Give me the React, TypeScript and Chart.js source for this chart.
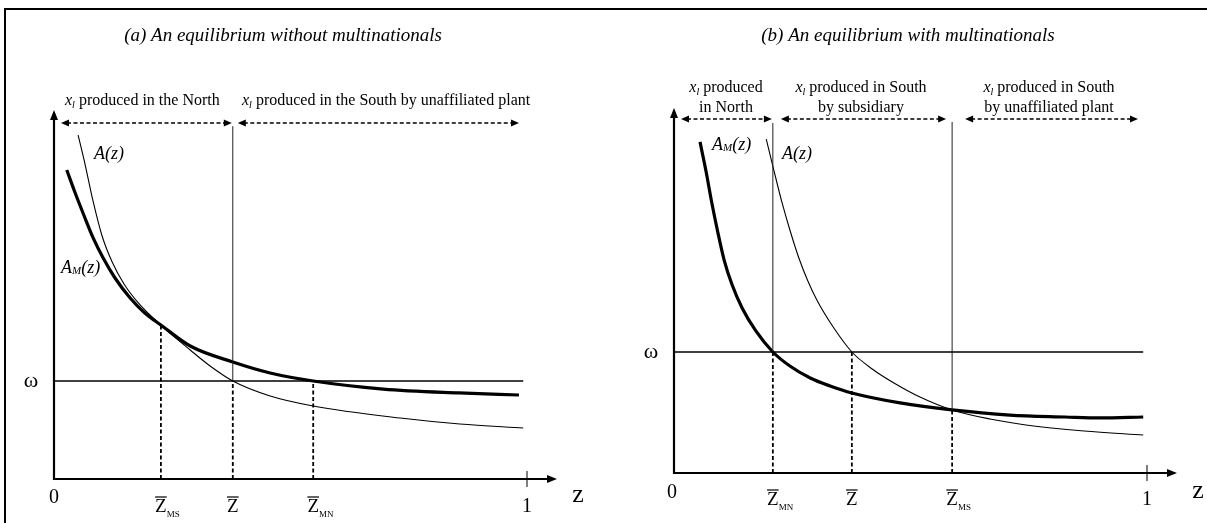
import React, { useEffect, useRef } from "react";
import { Chart, registerables } from "chart.js";

Chart.register(...registerables);

const SERIF = '"Liberation Serif", "Times New Roman", serif';

// ---------- Panel (a): an equilibrium without multinationals ----------
// z on [0,1]; values in units of ω (ω = 1)
const LEFT_A_Z = [0.051, 0.066, 0.082, 0.101, 0.123, 0.148, 0.182, 0.226, 0.288, 0.33, 0.378, 0.457, 0.548, 0.732, 0.858, 0.992];
const LEFT_A_V = [3.51, 3.204, 2.847, 2.49, 2.214, 1.99, 1.776, 1.571, 1.316, 1.153, 1.0, 0.847, 0.745, 0.622, 0.561, 0.52];
const LEFT_AM_Z = [0.027, 0.044, 0.063, 0.082, 0.104, 0.129, 0.161, 0.192, 0.226, 0.288, 0.378, 0.457, 0.548, 0.696, 0.856, 0.983];
const LEFT_AM_V = [3.153, 2.929, 2.694, 2.469, 2.255, 2.051, 1.847, 1.694, 1.571, 1.357, 1.194, 1.082, 1.0, 0.918, 0.878, 0.857];
const LEFT_MARK_Z = [0.226, 0.378, 0.548]; // Z̄MS, Z̄, Z̄MN
const LEFT_MARK_SUB = ["MS", "", "MN"];
const LEFT_MARK_V = [1.571, 1.0, 1.0]; // where each dashed drop line starts
const LEFT_GUIDE_TOP = 3.6; // top of the solid line at Z̄
const LEFT_OMEGA_END = 0.992;

// ---------- Panel (b): an equilibrium with multinationals ----------
const RIGHT_A_Z = [0.195, 0.211, 0.228, 0.245, 0.264, 0.283, 0.302, 0.338, 0.376, 0.419, 0.465, 0.52, 0.588, 0.668, 0.744, 0.867, 0.992];
const RIGHT_A_V = [2.76, 2.504, 2.24, 2.008, 1.777, 1.587, 1.43, 1.198, 1.0, 0.86, 0.744, 0.628, 0.521, 0.446, 0.397, 0.347, 0.314];
const RIGHT_AM_Z = [0.055, 0.068, 0.08, 0.093, 0.106, 0.123, 0.144, 0.173, 0.209, 0.245, 0.288, 0.33, 0.376, 0.478, 0.588, 0.71, 0.827, 0.901, 0.992];
const RIGHT_AM_V = [2.736, 2.488, 2.231, 1.983, 1.76, 1.554, 1.364, 1.174, 1.0, 0.884, 0.785, 0.719, 0.661, 0.579, 0.521, 0.479, 0.463, 0.455, 0.463];
const RIGHT_MARK_Z = [0.209, 0.376, 0.588]; // Z̄MN, Z̄, Z̄MS
const RIGHT_MARK_SUB = ["MN", "", "MS"];
const RIGHT_MARK_V = [1.0, 1.0, 0.521];
const RIGHT_GUIDE_TOP = [2.893, 2.901]; // solid lines at Z̄MN and Z̄MS
const RIGHT_OMEGA_END = 0.992;

type Pt = { x: number; y: number };
const pts = (zs: number[], vs: number[]): Pt[] => zs.map((z, i) => ({ x: z, y: vs[i] }));
const seg = (x1: number, y1: number, x2: number, y2: number): Pt[] => [
  { x: x1, y: y1 },
  { x: x2, y: y2 },
];

const base = { borderColor: "#000", pointRadius: 0, fill: false, tension: 0 };
const curve = (data: Pt[], w: number) => ({ ...base, data, borderWidth: w, cubicInterpolationMode: "monotone" as const });
const line = (data: Pt[], w: number, dash: number[] = [], color = "#000") => ({
  ...base,
  data,
  borderWidth: w,
  borderDash: dash,
  borderColor: color,
});

interface Run {
  t: string;
  f: string;
  dy?: number;
}
function runsWidth(ctx: CanvasRenderingContext2D, runs: Run[]) {
  let w = 0;
  for (const r of runs) {
    ctx.font = r.f;
    w += ctx.measureText(r.t).width;
  }
  return w;
}
function drawRuns(ctx: CanvasRenderingContext2D, runs: Run[], x: number, y: number, center = false) {
  let cx = center ? x - runsWidth(ctx, runs) / 2 : x;
  ctx.textAlign = "left";
  ctx.textBaseline = "alphabetic";
  for (const r of runs) {
    ctx.font = r.f;
    ctx.fillText(r.t, cx, y + (r.dy || 0));
    cx += ctx.measureText(r.t).width;
  }
}
function head(ctx: CanvasRenderingContext2D, x: number, y: number, dx: number, dy: number, len = 9, half = 4) {
  const bx = x - dx * len;
  const by = y - dy * len;
  ctx.beginPath();
  ctx.moveTo(x, y);
  ctx.lineTo(bx - dy * half, by + dx * half);
  ctx.lineTo(bx + dy * half, by - dx * half);
  ctx.closePath();
  ctx.fill();
}
function dashedArrow(ctx: CanvasRenderingContext2D, x1: number, x2: number, y: number) {
  ctx.save();
  ctx.setLineDash([4, 2.5]);
  ctx.lineWidth = 1.6;
  ctx.beginPath();
  ctx.moveTo(x1 + 6, y);
  ctx.lineTo(x2 - 6, y);
  ctx.stroke();
  ctx.restore();
  head(ctx, x1, y, -1, 0, 8, 3.5);
  head(ctx, x2, y, 1, 0, 8, 3.5);
}
function axes(ctx: CanvasRenderingContext2D, x0: number, y0: number, tipY: number, tipX: number, x1: number) {
  ctx.lineWidth = 2.2;
  ctx.beginPath();
  ctx.moveTo(x0, y0 + 1);
  ctx.lineTo(x0, tipY + 7);
  ctx.moveTo(x0 - 1, y0);
  ctx.lineTo(tipX - 7, y0);
  ctx.stroke();
  head(ctx, x0, tipY, 0, -1, 10, 4);
  head(ctx, tipX, y0, 1, 0, 10, 4);
  ctx.lineWidth = 1;
  ctx.beginPath();
  ctx.moveTo(x1, y0 - 8);
  ctx.lineTo(x1, y0 + 8);
  ctx.stroke();
}
function zbar(ctx: CanvasRenderingContext2D, x: number, baseY: number, sub: string) {
  ctx.font = `19px ${SERIF}`;
  const w = ctx.measureText("Z").width;
  ctx.textAlign = "left";
  ctx.textBaseline = "alphabetic";
  ctx.fillText("Z", x - w / 2, baseY);
  ctx.lineWidth = 1.2;
  ctx.beginPath();
  ctx.moveTo(x - w / 2, baseY - 15);
  ctx.lineTo(x + w / 2, baseY - 15);
  ctx.stroke();
  if (sub) {
    ctx.font = `9px ${SERIF}`;
    ctx.fillText(sub, x + w / 2, baseY + 5);
  }
}
function centerText(ctx: CanvasRenderingContext2D, t: string, f: string, x: number, y: number) {
  ctx.font = f;
  ctx.textAlign = "center";
  ctx.textBaseline = "alphabetic";
  ctx.fillText(t, x, y);
}
const xl = (rest: string): Run[] => [
  { t: "x", f: `italic 16px ${SERIF}` },
  { t: "l", f: `italic 10px ${SERIF}`, dy: 3 },
  { t: rest, f: `16px ${SERIF}` },
];
const amLabel: Run[] = [
  { t: "A", f: `italic 18px ${SERIF}` },
  { t: "M", f: `italic 11px ${SERIF}`, dy: 1 },
  { t: "(z)", f: `italic 18px ${SERIF}` },
];
const aLabel: Run[] = [{ t: "A(z)", f: `italic 18px ${SERIF}` }];

function drawLeft(chart: any) {
  const ctx: CanvasRenderingContext2D = chart.ctx;
  const X = (z: number) => chart.scales.x.getPixelForValue(z);
  const Y = (v: number) => chart.scales.y.getPixelForValue(v);
  ctx.save();
  ctx.fillStyle = "#000";
  ctx.strokeStyle = "#000";
  axes(ctx, X(0), Y(0), 110, 557, X(1));
  centerText(ctx, "(a) An equilibrium without multinationals", `italic 19px ${SERIF}`, 283, 41);
  drawRuns(ctx, xl(" produced in the North"), 65, 105);
  drawRuns(ctx, xl(" produced in the South by unaffiliated plant"), 242, 105);
  dashedArrow(ctx, 61, X(LEFT_MARK_Z[1]) - 1, 123);
  dashedArrow(ctx, X(LEFT_MARK_Z[1]) + 5, 519, 123);
  centerText(ctx, "ω", `22px ${SERIF}`, 31, Y(1) + 6);
  centerText(ctx, "0", `20px ${SERIF}`, X(0), 503);
  centerText(ctx, "1", `20px ${SERIF}`, X(1), 512);
  centerText(ctx, "z", `26px ${SERIF}`, 578, 502);
  LEFT_MARK_Z.forEach((z, i) => zbar(ctx, X(z), 512, LEFT_MARK_SUB[i]));
  drawRuns(ctx, aLabel, 94, 159);
  drawRuns(ctx, amLabel, 61, 273);
  ctx.restore();
}

function drawRight(chart: any) {
  const ctx: CanvasRenderingContext2D = chart.ctx;
  const X = (z: number) => chart.scales.x.getPixelForValue(z);
  const Y = (v: number) => chart.scales.y.getPixelForValue(v);
  ctx.save();
  ctx.fillStyle = "#000";
  ctx.strokeStyle = "#000";
  axes(ctx, X(0), Y(0), 108, 577, X(1));
  centerText(ctx, "(b) An equilibrium with multinationals", `italic 19px ${SERIF}`, 308, 41);
  drawRuns(ctx, xl(" produced"), 126, 92, true);
  centerText(ctx, "in North", `16px ${SERIF}`, 126, 112);
  drawRuns(ctx, xl(" produced in South"), 261, 92, true);
  centerText(ctx, "by subsidiary", `16px ${SERIF}`, 261, 112);
  drawRuns(ctx, xl(" produced in South"), 449, 92, true);
  centerText(ctx, "by unaffiliated plant", `16px ${SERIF}`, 449, 112);
  dashedArrow(ctx, 81, X(RIGHT_MARK_Z[0]) - 1, 119);
  dashedArrow(ctx, X(RIGHT_MARK_Z[0]) + 8, X(RIGHT_MARK_Z[2]) - 6, 119);
  dashedArrow(ctx, X(RIGHT_MARK_Z[2]) + 13, 538, 119);
  centerText(ctx, "ω", `22px ${SERIF}`, 51, Y(1) + 6);
  centerText(ctx, "0", `20px ${SERIF}`, X(0) - 2, 498);
  centerText(ctx, "1", `20px ${SERIF}`, X(1), 505);
  centerText(ctx, "z", `26px ${SERIF}`, 598, 498);
  RIGHT_MARK_Z.forEach((z, i) => zbar(ctx, X(z), 505, RIGHT_MARK_SUB[i]));
  drawRuns(ctx, amLabel, 112, 150);
  drawRuns(ctx, aLabel, 182, 159);
  ctx.restore();
}

interface PanelDef {
  id: string;
  left: number;
  width: number;
  padding: { left: number; right: number; top: number; bottom: number };
  yMax: number;
  datasets: any[];
  draw: (c: any) => void;
}

const LEFT_DEF: PanelDef = {
  id: "panelA",
  left: 0,
  width: 600,
  padding: { left: 54, right: 73, top: 87, bottom: 44 },
  yMax: 4,
  datasets: [
    line(seg(0, 1, LEFT_OMEGA_END, 1), 1.6),
    line(seg(LEFT_MARK_Z[1], 1, LEFT_MARK_Z[1], LEFT_GUIDE_TOP), 1, [], "#222"),
    ...LEFT_MARK_Z.map((z, i) => line(seg(z, 0, z, LEFT_MARK_V[i]), 1.8, [4, 2.5])),
    curve(pts(LEFT_A_Z, LEFT_A_V), 1.1),
    curve(pts(LEFT_AM_Z, LEFT_AM_V), 3.2),
  ],
  draw: drawLeft,
};

const RIGHT_DEF: PanelDef = {
  id: "panelB",
  left: 600,
  width: 607,
  padding: { left: 74, right: 60, top: 49.5, bottom: 50 },
  yMax: 3.5,
  datasets: [
    line(seg(0, 1, RIGHT_OMEGA_END, 1), 1.6),
    line(seg(RIGHT_MARK_Z[0], RIGHT_MARK_V[0], RIGHT_MARK_Z[0], RIGHT_GUIDE_TOP[0]), 1, [], "#222"),
    line(seg(RIGHT_MARK_Z[2], RIGHT_MARK_V[2], RIGHT_MARK_Z[2], RIGHT_GUIDE_TOP[1]), 1, [], "#222"),
    ...RIGHT_MARK_Z.map((z, i) => line(seg(z, 0, z, RIGHT_MARK_V[i]), 1.8, [4, 2.5])),
    curve(pts(RIGHT_A_Z, RIGHT_A_V), 1.1),
    curve(pts(RIGHT_AM_Z, RIGHT_AM_V), 3.2),
  ],
  draw: drawRight,
};

function Panel({ def }: { def: PanelDef }) {
  const ref = useRef<HTMLCanvasElement>(null);
  useEffect(() => {
    const chart = new Chart(ref.current as HTMLCanvasElement, {
      type: "line",
      data: { datasets: def.datasets },
      options: {
        animation: false,
        responsive: false,
        maintainAspectRatio: false,
        devicePixelRatio: 1,
        events: [],
        layout: { padding: def.padding },
        plugins: { legend: { display: false }, tooltip: { enabled: false } },
        scales: {
          x: { type: "linear", min: 0, max: 1, display: false },
          y: { type: "linear", min: 0, max: def.yMax, display: false },
        },
      },
      plugins: [{ id: def.id, afterDatasetsDraw: (c: any) => def.draw(c) }],
    } as any);
    return () => chart.destroy();
  }, [def]);
  return (
    <canvas
      ref={ref}
      width={def.width}
      height={523}
      style={{ position: "absolute", left: def.left, top: 0, width: def.width, height: 523 }}
    />
  );
}

export default function App() {
  return (
    <div style={{ position: "absolute", left: 0, top: 0, width: 1207, height: 523, background: "#fff", overflow: "hidden" }}>
      <div
        style={{
          position: "absolute",
          left: 4,
          top: 8,
          width: 1203,
          height: 515,
          borderLeft: "2px solid #000",
          borderTop: "2px solid #000",
        }}
      />
      <Panel def={LEFT_DEF} />
      <Panel def={RIGHT_DEF} />
    </div>
  );
}
